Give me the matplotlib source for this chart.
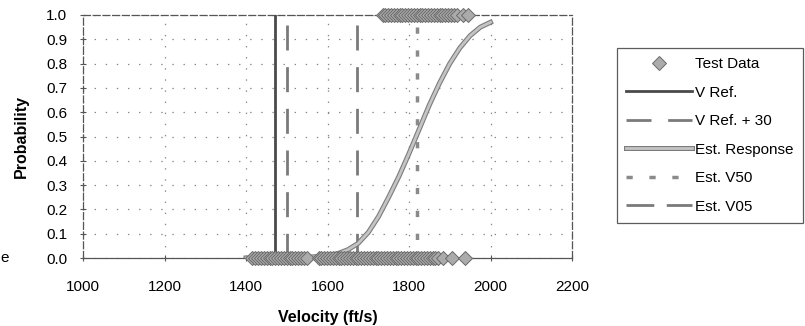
import matplotlib
matplotlib.use("Agg")
import matplotlib.pyplot as plt
import matplotlib.patheffects as pe
from matplotlib.lines import Line2D

plt.rcParams['font.family'] = ['Liberation Sans', 'DejaVu Sans']
plt.rcParams['lines.scale_dashes'] = False

# Test shots: non-perforations (probability 0) and perforations (probability 1)
fail_velocity = [1415, 1423, 1430, 1437, 1444, 1451, 1458, 1465, 1472, 1479, 1486,
                 1493, 1500, 1507, 1514, 1521, 1528, 1535, 1542, 1549,
                 1578, 1585, 1592, 1599, 1606, 1613, 1620, 1627, 1634, 1641, 1648,
                 1655, 1662, 1669, 1676, 1683, 1690, 1697, 1704, 1711, 1718, 1725,
                 1732, 1739, 1746, 1753, 1760, 1767, 1774, 1781, 1788, 1795, 1802,
                 1809, 1816, 1823, 1830, 1837, 1844, 1851, 1858, 1865, 1872,
                 1884, 1906, 1937]
pass_velocity = [1735, 1742, 1749, 1756, 1763, 1770, 1777, 1784, 1791, 1798, 1805,
                 1812, 1819, 1826, 1833, 1840, 1847, 1854, 1861, 1868, 1875, 1882,
                 1889, 1896, 1903, 1910, 1917, 1932, 1945]

# Estimated response curve
resp_velocity = [1400, 1450, 1500, 1550, 1600, 1625, 1650, 1675, 1700, 1725, 1750,
                 1775, 1800, 1825, 1850, 1875, 1900, 1925, 1950, 1975, 2000]
resp_prob = [0.0, 0.0005, 0.001, 0.003, 0.009, 0.018, 0.034, 0.06, 0.105, 0.17, 0.25,
             0.335, 0.43, 0.53, 0.63, 0.72, 0.80, 0.865, 0.915, 0.95, 0.97]

v_ref = 1470
v_ref_30 = v_ref + 30
est_v50 = 1820
est_v05 = 1672

x_ticks = [1000, 1200, 1400, 1600, 1800, 2000, 2200]
y_ticks = [0.0, 0.1, 0.2, 0.3, 0.4, 0.5, 0.6, 0.7, 0.8, 0.9, 1.0]

fig = plt.figure(figsize=(8.05, 3.26), dpi=100)
ax = fig.add_axes([83 / 805, 1 - 258 / 326, (572 - 83) / 805, (258 - 15) / 326])

ax.set_xlim(1000, 2200)
ax.set_ylim(0, 1)
ax.set_xticks(x_ticks)
ax.set_yticks(y_ticks)
ax.set_yticklabels([f"{t:.1f}" for t in y_ticks])
ax.tick_params(axis='both', labelsize=11, direction='inout', length=5,
               color='#555555', width=0.8)
ax.tick_params(axis='x', pad=13)
ax.tick_params(axis='y', pad=9)

ax.grid(True, color='#888888', linewidth=0.9, linestyle=(0, (1, 7)))
ax.set_axisbelow(True)
for s in ax.spines.values():
    s.set_color('#555555')
    s.set_linewidth(0.9)
    s.set_linestyle((0, (5, 2)))
ax.spines['bottom'].set_linestyle('-')

# Reference and estimate lines
ax.plot([v_ref, v_ref], [1, 0], color='#4a4a4a', linewidth=2.0, zorder=3)
ax.plot([v_ref_30, v_ref_30], [0.96, 0], color='#7a7a7a', linewidth=2.0,
        linestyle=(0, (18, 12)), zorder=3)
ax.plot([est_v05, est_v05], [0.96, 0], color='#7a7a7a', linewidth=2.0,
        linestyle=(0, (18, 12)), zorder=3)
ax.plot([est_v50, est_v50], [0.95, 0], color='#8a8a8a', linewidth=2.5,
        linestyle=(0, (4.5, 12)), zorder=3)

# Estimated response
ax.plot(resp_velocity, resp_prob, color='#c4c4c4', linewidth=2.0, zorder=4,
        solid_joinstyle='round',
        path_effects=[pe.Stroke(linewidth=3.6, foreground='#7c7c7c'), pe.Normal()])

# Test data
ax.plot(fail_velocity, [0] * len(fail_velocity), linestyle='none', marker='D',
        markersize=7, markerfacecolor='#ababab', markeredgecolor='#6a6a6a',
        markeredgewidth=0.7, zorder=5, clip_on=False)
ax.plot(pass_velocity, [1] * len(pass_velocity), linestyle='none', marker='D',
        markersize=7, markerfacecolor='#ababab', markeredgecolor='#6a6a6a',
        markeredgewidth=0.7, zorder=5, clip_on=False)

ax.set_xlabel('Velocity (ft/s)', fontsize=11.5, fontweight='bold', labelpad=12)
ax.set_ylabel('Probability', fontsize=11.5, fontweight='bold', labelpad=12)

handles = [
    Line2D([], [], linestyle='none', marker='D', markersize=7,
           markerfacecolor='#ababab', markeredgecolor='#6a6a6a', markeredgewidth=0.7),
    Line2D([], [], color='#4a4a4a', linewidth=2.0),
    Line2D([], [], color='#7a7a7a', linewidth=2.0, linestyle=(0, (18, 12))),
    Line2D([], [], color='#c4c4c4', linewidth=2.0,
           path_effects=[pe.Stroke(linewidth=3.6, foreground='#7c7c7c'), pe.Normal()]),
    Line2D([], [], color='#8a8a8a', linewidth=2.5, linestyle=(0, (4.5, 12))),
    Line2D([], [], color='#7a7a7a', linewidth=2.0, linestyle=(0, (20, 9))),
]
labels = ['Test Data', 'V Ref.', 'V Ref. + 30', 'Est. Response', 'Est. V50', 'Est. V05']
leg = fig.legend(handles, labels, loc='upper left',
                 bbox_to_anchor=(617 / 805, 1 - 48 / 326), fontsize=11,
                 handlelength=4.3, handletextpad=0.2, labelspacing=0.95,
                 borderpad=0.6, borderaxespad=0, fancybox=False, frameon=True)
leg.get_frame().set_edgecolor('#333333')
leg.get_frame().set_linewidth(0.9)

fig.text(0.0, 1 - 258 / 326, 'e', fontsize=11, va='center', ha='left')

fig.savefig('out.png', dpi=100)
